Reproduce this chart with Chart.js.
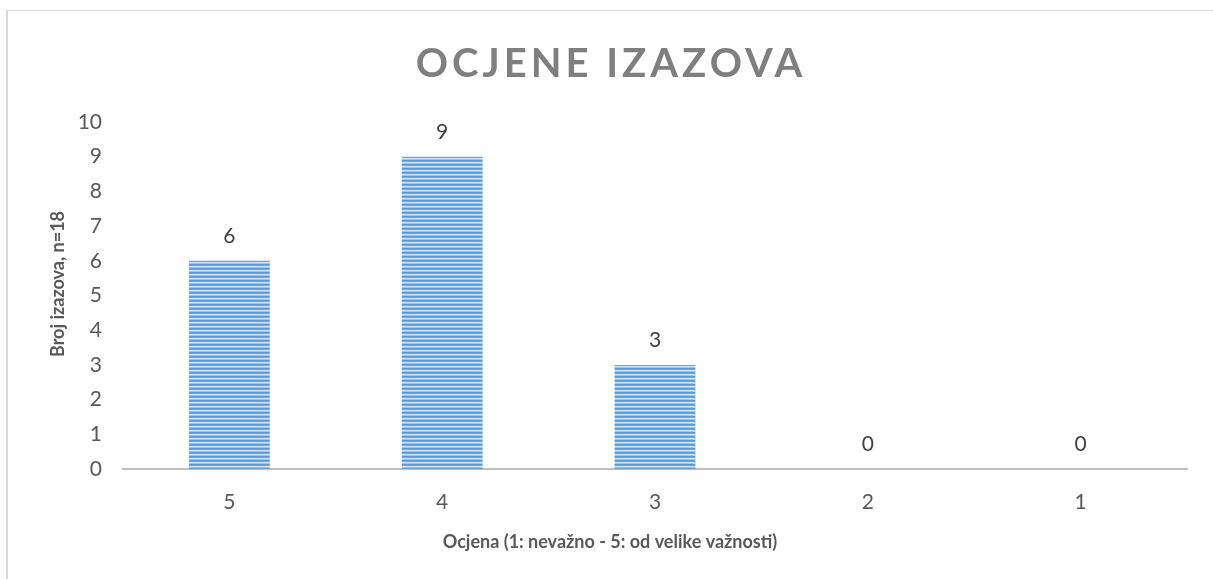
<!DOCTYPE html>
<html>
<head>
<meta charset="utf-8">
<script src="https://cdn.jsdelivr.net/npm/chart.js@4.4.0/dist/chart.umd.min.js"></script>
<style>
  html, body { margin: 0; padding: 0; background: #fff; }
  #wrap { width: 1213px; height: 579px; position: relative; }
</style>
</head>
<body>
<div id="wrap"><canvas id="myChart" width="1213" height="579"></canvas></div>
<script>
const categories = ['5', '4', '3', '2', '1'];
const counts = [6, 9, 3, 0, 0];
const yTicks = [0, 1, 2, 3, 4, 5, 6, 7, 8, 9, 10];

const chartTitle = 'OCJENE IZAZOVA';
const xTitle = 'Ocjena (1: nevažno - 5: od velike važnosti)';
const yTitle = 'Broj izazova, n=18';

const FONT = 'Lato, "Open Sans", sans-serif';
const ctx = document.getElementById('myChart');

// striped fill like the Excel pattern
function stripes() {
    let c = document.createElement('canvas');
    c.width = 4;
    c.height = 4;
    let g = c.getContext('2d');
    g.fillStyle = '#5b9bd5';
    g.fillRect(0, 0, 4, 1);
    g.fillStyle = '#6ea7dc';
    g.fillRect(0, 1, 4, 1);
    g.fillStyle = '#cfe1f3';
    g.fillRect(0, 2, 4, 1);
    g.fillStyle = '#a3c6e8';
    g.fillRect(0, 3, 4, 1);
    return g.createPattern(c, 'repeat');
}

const frame = {
    id: 'frame',
    beforeDraw(chart) {
        let c = chart.ctx;
        c.save();
        c.fillStyle = '#d9d9d9';
        c.fillRect(6, 10, 2, chart.height);
        c.fillRect(6, 10, chart.width, 1);
        c.restore();
    },
    afterDraw(chart) {
        let c = chart.ctx;
        c.save();
        // title with letter spacing
        c.font = 'bold 40px ' + FONT;
        c.fillStyle = '#7f7f7f';
        c.textAlign = 'center';
        c.textBaseline = 'alphabetic';
        c.letterSpacing = '4px';
        c.fillText(chartTitle, 611, 77);
        c.letterSpacing = '0px';

        // axis titles (Excel centres these on the whole chart, not the plot)
        c.font = 'bold 18px ' + FONT;
        c.fillStyle = '#595959';
        c.fillText(xTitle, 610, 548);
        c.save();
        c.translate(64, 284);
        c.rotate(-Math.PI / 2);
        c.fillText(yTitle, 0, 0);
        c.restore();

        // value labels above the bars
        c.font = '21px ' + FONT;
        c.fillStyle = '#404040';
        let meta = chart.getDatasetMeta(0);
        meta.data.forEach((bar, i) => {
            c.fillText(String(counts[i]), bar.x, bar.y - 18);
        });
        c.restore();
    }
};

let ch = new Chart(ctx, {
    type: 'bar',
    data: {
        labels: categories,
        datasets: [
            {
                label: yTitle,
                data: counts,
                backgroundColor: stripes(),
                borderWidth: 0,
                categoryPercentage: 1,
                barPercentage: 0.38,
            },
        ]
    },
    options: {
        responsive: false,
        animation: false,
        layout: {
            padding: { top: 122, right: 26, left: 0, bottom: 0 }
        },
        plugins: {
            title: { display: false },
            legend: { display: false },
            tooltip: { enabled: false }
        },
        scales: {
            x: {
                grid: { display: false, drawTicks: false },
                border: { display: true, color: '#bfbfbf', width: 2 },
                ticks: {
                    color: '#595959',
                    padding: 21,
                    font: { family: FONT, size: 21 }
                },
                afterFit: function (s) { s.height = 110; }
            },
            y: {
                min: 0,
                max: 10,
                grid: { display: false, drawTicks: false },
                border: { display: false },
                afterBuildTicks: function (s) { s.ticks = yTicks.map(v => ({ value: v })); },
                ticks: {
                    color: '#595959',
                    padding: 21,
                    font: { family: FONT, size: 21 }
                },
                afterFit: function (s) { s.width = 123; }
            }
        }
    },
    plugins: [frame]
});
</script>
</body>
</html>
